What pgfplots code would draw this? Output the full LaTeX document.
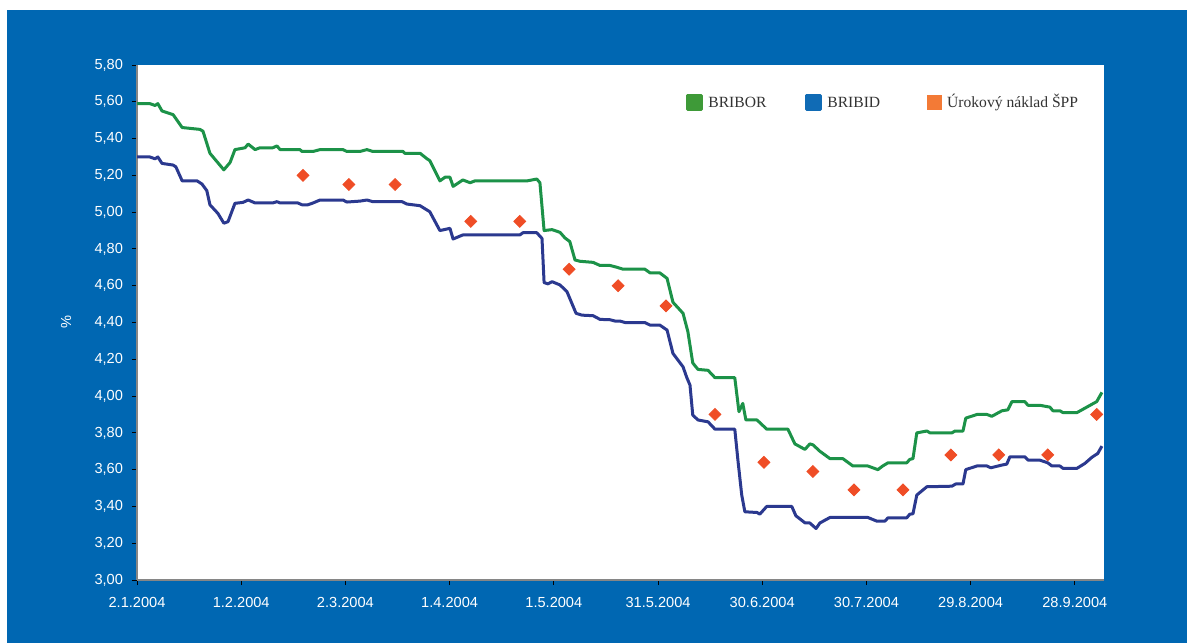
\documentclass[border=0pt]{standalone}
\usepackage{pgfplots}
\pgfplotsset{compat=1.18}
\usepackage{fontspec}
\setmainfont{Liberation Sans}
\newfontfamily\legfont{Liberation Serif}

\definecolor{bgblue}{RGB}{0,103,178}
\definecolor{bribor}{RGB}{28,146,72}
\definecolor{bribid}{RGB}{43,57,143}
\definecolor{spp}{RGB}{239,77,38}
\definecolor{legbribor}{RGB}{62,154,56}
\definecolor{legbribid}{RGB}{16,107,181}
\definecolor{legspp}{RGB}{243,122,54}
\definecolor{axisgray}{RGB}{134,134,134}

% x = days since 2.1.2004
\pgfplotstableread{
day rate
0     5.59
3.7   5.59
5.2   5.58
6.0   5.59
7.2   5.55
10.4  5.53
13.0  5.46
18.1  5.45
19.0  5.44
21.0  5.32
25.0  5.23
26.8  5.27
28.2  5.34
31.1  5.35
32.0  5.37
34.0  5.34
35.4  5.35
39.1  5.35
40.3  5.36
41.2  5.34
46.9  5.34
47.5  5.33
50.7  5.33
52.7  5.34
59.3  5.34
60.4  5.33
64.2  5.33
66.2  5.34
67.9  5.33
76.6  5.33
77.1  5.32
81.5  5.32
83.5  5.29
84.3  5.28
87.2  5.17
88.7  5.19
90.1  5.19
91.0  5.14
93.8  5.175
95.9  5.16
97.3  5.17
112.3 5.17
115.1 5.18
116.0 5.16
117.2 4.90
119.5 4.905
121.8 4.89
123.2 4.86
124.6 4.84
126.1 4.74
127.5 4.733
131.3 4.727
133.3 4.71
136.2 4.71
138.2 4.70
139.9 4.69
146.2 4.69
147.7 4.67
150.5 4.67
152.6 4.64
154.3 4.51
157.2 4.45
158.6 4.35
160.0 4.18
161.5 4.145
164.4 4.14
166.4 4.10
172.1 4.10
173.3 3.915
174.4 3.96
175.3 3.87
178.5 3.87
181.3 3.82
187.4 3.82
189.4 3.74
192.3 3.71
193.7 3.74
194.6 3.735
196.6 3.70
199.5 3.66
203.2 3.66
206.1 3.62
210.4 3.62
213.3 3.60
214.7 3.62
216.2 3.637
221.6 3.637
222.5 3.656
223.4 3.66
224.5 3.80
227.4 3.81
228.3 3.80
234.6 3.80
235.5 3.81
237.8 3.81
238.6 3.88
241.8 3.90
244.7 3.90
246.1 3.89
249.0 3.92
250.7 3.925
251.9 3.97
255.6 3.97
256.5 3.95
259.9 3.95
262.8 3.94
263.7 3.92
265.7 3.92
266.6 3.91
270.6 3.91
276.3 3.97
277.8 4.02
}\briborTable

\pgfplotstableread{
day rate
0     5.30
3.7   5.30
5.2   5.29
6.0   5.30
7.2   5.265
10.4  5.256
11.2  5.246
13.0  5.17
17.3  5.17
18.7  5.153
20.1  5.117
21.0  5.04
23.3  4.993
25.0  4.94
26.2  4.948
28.2  5.048
30.5  5.053
32.0  5.066
34.0  5.05
39.1  5.05
40.3  5.057
41.2  5.05
46.3  5.05
47.5  5.04
49.2  5.04
50.7  5.05
52.7  5.066
59.3  5.066
60.4  5.055
64.2  5.06
66.2  5.066
67.9  5.057
76.3  5.057
77.7  5.044
81.5  5.035
83.8  5.008
84.3  5.002
87.2  4.90
88.7  4.906
90.1  4.912
91.0  4.854
93.8  4.876
110.2 4.876
111.1 4.888
115.1 4.888
116.6 4.857
117.2 4.617
118.3 4.61
119.5 4.622
121.8 4.604
123.8 4.567
125.2 4.504
126.4 4.45
128.1 4.44
131.3 4.437
133.3 4.417
136.2 4.415
137.6 4.408
139.0 4.408
140.5 4.40
146.2 4.40
147.7 4.386
150.5 4.386
152.6 4.359
154.3 4.232
157.2 4.159
158.3 4.10
159.2 4.06
160.0 3.897
161.5 3.87
164.4 3.86
166.4 3.82
172.1 3.82
173.0 3.652
174.1 3.462
175.0 3.371
178.5 3.367
179.3 3.358
181.3 3.40
188.5 3.40
189.7 3.349
192.3 3.311
193.7 3.31
195.5 3.28
196.6 3.31
199.5 3.34
210.4 3.34
213.0 3.32
215.3 3.32
216.2 3.338
221.6 3.338
222.5 3.358
223.4 3.36
224.5 3.462
227.4 3.507
234.6 3.51
235.7 3.522
237.8 3.522
238.6 3.60
241.8 3.62
244.7 3.62
245.8 3.61
249.0 3.625
250.4 3.63
251.3 3.67
255.6 3.67
256.5 3.652
259.9 3.652
262.2 3.637
263.4 3.62
265.7 3.62
266.6 3.607
270.6 3.607
272.9 3.634
274.9 3.667
276.6 3.688
277.8 3.728
}\bribidTable

\pgfplotstableread{
day rate
47.8  5.20
61.0  5.15
74.3  5.15
96.1  4.95
110.2 4.95
124.4 4.69
138.5 4.60
152.3 4.49
166.4 3.90
180.5 3.64
194.6 3.59
206.4 3.49
220.5 3.49
234.3 3.68
248.1 3.68
262.2 3.68
276.3 3.90
}\sppTable

\begin{document}
\begin{tikzpicture}
% page and blue panel
\fill[white] (-68.5pt,-31.5pt) rectangle (525pt,290pt);
\fill[bgblue] (-65pt,-31.5pt) rectangle (525pt,285pt);
\begin{axis}[
  at={(0pt,0pt)}, anchor=south west,
  scale only axis, width=483.5pt, height=257.5pt,
  xmin=0, xmax=278.4, ymin=3, ymax=5.8,
  axis background/.style={fill=white},
  axis x line*=bottom, axis y line*=left,
  axis line style={draw=axisgray, line width=0.7pt, -},
  tick align=outside, major tick length=2.5pt,
  tick style={black, line width=0.5pt},
  xtick={0,30,60,90,120,150,180,210,240,270},
  xticklabels={2.1.2004,1.2.2004,2.3.2004,1.4.2004,1.5.2004,31.5.2004,30.6.2004,30.7.2004,29.8.2004,28.9.2004},
  ytick={3,3.2,3.4,3.6,3.8,4,4.2,4.4,4.6,4.8,5,5.2,5.4,5.6,5.8},
  y tick label style={/pgf/number format/.cd, fixed, fixed zerofill, precision=2, use comma, assume math mode=true, /tikz/.cd, xshift=-1pt},
  x tick label style={yshift=-2.5pt},
  ticklabel style={font=\fontsize{7.3}{8.5}\selectfont, text=white},
  ylabel={\%},
  ylabel style={at={(axis description cs:-0.0734,0.5)}, anchor=center, text=white, font=\fontsize{7.3}{8.5}\selectfont},
  legend columns=3,
  legend cell align=left,
  legend style={at={(0.5677,0.927)}, anchor=west, draw=none, fill=none, inner sep=0pt,
    nodes={inner sep=0pt, font=\legfont\fontsize{7.8}{9}\selectfont, text=black!80},
    /tikz/every odd column/.append style={column sep=2.5pt},
    /tikz/every even column/.append style={column sep=0pt}},
]
\addplot[bribor, line width=1.5pt, line join=round,
  legend image code/.code={\fill[legbribor] (0pt,-3.5pt) rectangle (7pt,3.5pt);}]
  table[x=day, y=rate] {\briborTable};
\addlegendentry{\makebox[48.5pt][l]{\vphantom{Úý}BRIBOR}}
\addplot[bribid, line width=1.5pt, line join=round,
  legend image code/.code={\fill[legbribid] (0pt,-3.5pt) rectangle (7pt,3.5pt);}]
  table[x=day, y=rate] {\bribidTable};
\addlegendentry{\makebox[50pt][l]{\vphantom{Úý}BRIBID}}
\addplot[only marks, mark=square*, mark size=2.1pt,
  mark options={rotate=45, fill=spp, draw=spp},
  legend image code/.code={\fill[legspp] (0pt,-3.5pt) rectangle (7pt,3.5pt);}]
  table[x=day, y=rate] {\sppTable};
\addlegendentry{\vphantom{Úý}Úrokový náklad ŠPP}
\end{axis}
\end{tikzpicture}
\end{document}
